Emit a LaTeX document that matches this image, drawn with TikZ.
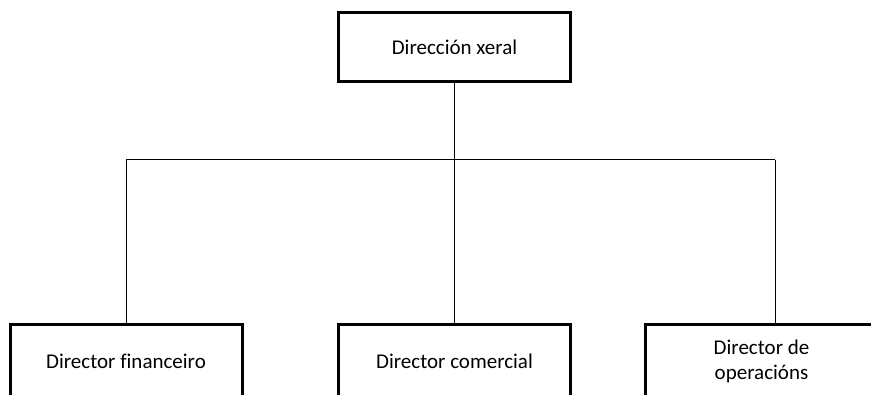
\documentclass[tikz,border=0pt]{standalone}
\usepackage{fontspec}
\setmainfont{Carlito}[Ligatures=CommonOff]
\begin{document}
\begin{tikzpicture}[x=1pt,y=1pt,
  box/.style={draw=black,line width=3pt,minimum width=232pt,inner sep=0pt,
    align=center,font=\fontsize{21}{25}\selectfont},
  conn/.style={draw=black,line width=1pt}]
\useasboundingbox (0,0) rectangle (871,394);
\clip (0,0) rectangle (871,394);
\node[box,minimum height=69pt] (top) at (454.5,347) {Dirección xeral};
\node[box,minimum height=74pt] (fin) at (126,32.5) {Director financeiro};
\node[box,minimum height=74pt] (com) at (454.5,32.5) {Director comercial};
\node[box,minimum height=74pt] (ops) at (761.5,32.5) {Director de\\operacións};
\coordinate (barL) at (126,234);
\coordinate (barR) at (775,234);
\draw[conn] (top.south) -- (com.north);
\draw[conn] (barL) -- (barR);
\draw[conn] (barL) -- (fin.north);
\draw[conn] (barR) -- (barR |- ops.north);
\end{tikzpicture}
\end{document}
